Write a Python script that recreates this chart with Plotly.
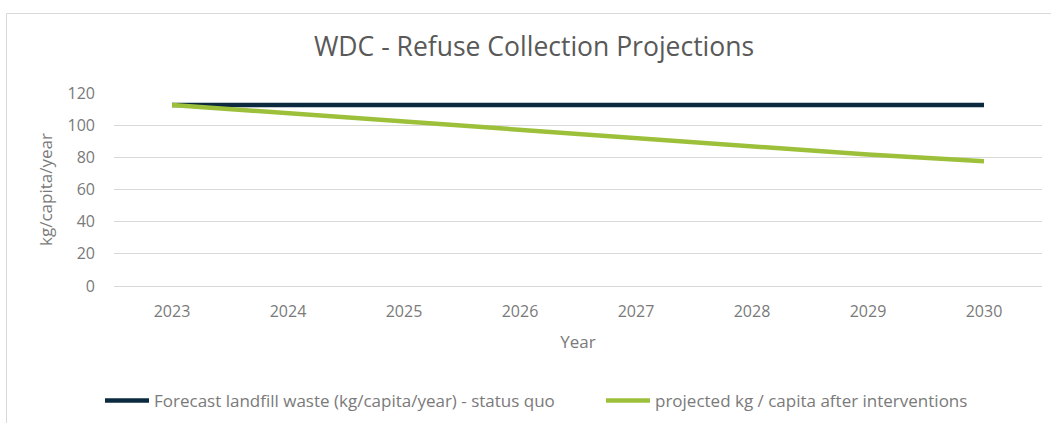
import plotly.graph_objects as go

years = ["2023", "2024", "2025", "2026", "2027", "2028", "2029", "2030"]
status_quo = [112.5, 112.5, 112.5, 112.5, 112.5, 112.5, 112.5, 112.5]
after_interventions = [112.6, 107.4, 101.9, 96.6, 91.4, 86.3, 81.7, 77.6]

name_status_quo = "Forecast landfill waste (kg/capita/year) - status quo"
name_after = "projected kg / capita after interventions"

W, H = 1051, 423
ML, MR, MT, MB = 114, 9, 93, 137
PW = W - ML - MR
PH = H - MT - MB

title_grey = "#595959"
text_grey = "#7a7a7a"
font_main = "Open Sans, Liberation Sans, sans-serif"


def px_x(p):
    return (p - ML) / PW


def px_y(p):
    return (H - MB - p) / PH


fig = go.Figure()
fig.add_trace(go.Scatter(
    x=years, y=status_quo, mode="lines", name=name_status_quo,
    line=dict(color="#0b2a40", width=4.5), legend="legend",
))
fig.add_trace(go.Scatter(
    x=years, y=after_interventions, mode="lines", name=name_after,
    line=dict(color="#9dc03b", width=4.5), legend="legend2",
))

# outer chart frame
fig.add_shape(type="rect", xref="paper", yref="paper",
              x0=px_x(6.5), x1=px_x(1060), y0=px_y(13.5), y1=px_y(440),
              line=dict(color="#d9d9d9", width=1), fillcolor="rgba(0,0,0,0)",
              layer="below")

legend_style = dict(orientation="h", yanchor="middle", xanchor="left",
                    xref="container", yref="container",
                    itemwidth=44, bgcolor="rgba(0,0,0,0)",
                    font=dict(size=17, color=text_grey, family=font_main))

fig.update_layout(
    width=W, height=H,
    margin=dict(l=ML, r=MR, t=MT, b=MB, autoexpand=False),
    paper_bgcolor="white", plot_bgcolor="white",
    font=dict(family=font_main, color=text_grey, size=16),
    title=dict(text="WDC - Refuse Collection Projections",
               x=px_x(534), xref="paper", xanchor="center",
               y=1 - 47 / H, yanchor="middle",
               font=dict(size=26.5, color=title_grey, family=font_main)),
    showlegend=True,
    legend=dict(x=100 / W, y=1 - 401 / H, **legend_style),
    legend2=dict(x=601 / W, y=1 - 401 / H, **legend_style),
    xaxis=dict(
        type="category", range=[-0.5, 7.5], showgrid=False, zeroline=False,
        showline=False, ticks="", tickfont=dict(size=16, color=text_grey),
        ticklabelstandoff=14,
        title=dict(text="Year", font=dict(size=17, color=text_grey), standoff=15),
    ),
    yaxis=dict(
        range=[0, 120], dtick=20, showgrid=True, gridcolor="#d9d9d9",
        gridwidth=1, zeroline=True, zerolinecolor="#d9d9d9", zerolinewidth=1,
        showline=False, ticks="",
        tickfont=dict(size=16, color=text_grey), ticklabelstandoff=18,
        title=dict(text="kg/capita/year", font=dict(size=17, color=text_grey),
                   standoff=10),
    ),
)

fig.write_html("out.html")
